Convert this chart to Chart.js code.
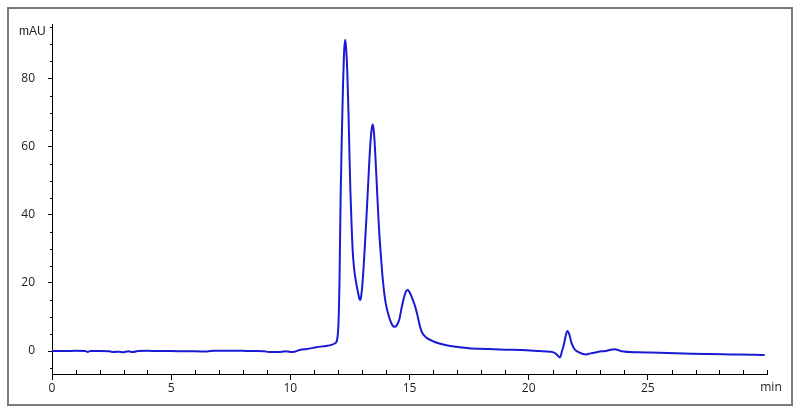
<!DOCTYPE html>
<html>
<head>
<meta charset="utf-8">
<script src="https://cdn.jsdelivr.net/npm/chart.js@4.4.1/dist/chart.umd.min.js"></script>
<style>
  html, body { margin: 0; padding: 0; background: #ffffff; }
  canvas { display: block; }
</style>
</head>
<body>
<canvas id="c" width="800" height="412"></canvas>
<script>
// Retention time (min)
const times = [
  0.0, 0.5, 1.0, 1.4, 1.5, 1.6, 2.0, 2.4, 2.6, 2.8, 3.0, 3.2, 3.4, 3.6, 4.0, 4.5, 5.0, 5.5, 6.0, 6.5,
  6.8, 7.5, 8.0, 8.5, 8.9, 9.1, 9.5, 9.8, 10.1, 10.4, 10.7, 11.1, 11.5, 11.72, 11.86, 11.93, 11.97, 12.0,
  12.03, 12.06, 12.11, 12.16, 12.21, 12.25, 12.30, 12.34, 12.39, 12.44, 12.48, 12.52, 12.57, 12.62, 12.68,
  12.75, 12.83, 12.90, 12.94, 12.98, 13.05, 13.12, 13.20, 13.28, 13.35, 13.41, 13.46, 13.51, 13.57, 13.64,
  13.72, 13.80, 13.88, 13.99, 14.16, 14.28, 14.37, 14.47, 14.58, 14.65, 14.76, 14.86, 14.93, 15.00, 15.14,
  15.25, 15.35, 15.43, 15.52, 15.70, 15.95, 16.25, 16.6, 16.95, 17.5, 18.2, 19.0, 19.7, 20.44, 20.9, 21.07,
  21.2, 21.31, 21.4, 21.49, 21.57, 21.63, 21.70, 21.80, 21.92, 22.05, 22.25, 22.40, 22.6, 22.82, 23.05,
  23.24, 23.45, 23.6, 23.75, 23.9, 24.6, 25.5, 26.5, 27.5, 28.5, 29.5, 29.9
];
// Absorbance (mAU)
const absorbance = [
  0.0, 0.0, 0.05, 0.0, -0.3, 0.0, 0.0, -0.1, -0.3, -0.2, -0.35, -0.1, -0.3, 0.0, 0.05, 0.0, 0.0, -0.1, -0.1, -0.15,
  0.1, 0.1, 0.05, 0.0, -0.05, -0.3, -0.3, -0.1, -0.3, 0.3, 0.6, 1.1, 1.5, 1.8, 2.2, 2.6, 3.6, 5.5,
  10, 19, 45, 63, 78, 87, 91.4, 89, 82, 70, 58, 47, 37, 29, 24,
  20.5, 17.5, 15.3, 15.0, 16.5, 22, 30, 40, 51, 60, 65, 66.5, 64, 57, 47,
  36, 28, 21, 14.5, 9.6, 7.6, 7.1, 7.6, 9.5, 12, 15.5, 17.6, 17.9, 17.3, 15,
  12.8, 10, 7.5, 5.5, 4.0, 3.0, 2.2, 1.6, 1.25, 0.8, 0.6, 0.4, 0.3, 0.0, -0.2, -0.5,
  -1.2, -1.9, 0.0, 2.3, 5.0, 5.9, 5.0, 2.3, 0.6, -0.2, -0.8, -1.0, -0.7, -0.4, -0.1,
  0.0, 0.4, 0.5, 0.3, -0.1, -0.4, -0.5, -0.7, -0.9, -1.0, -1.1, -1.2
];
// Tick labels
const xTicks = [0, 5, 10, 15, 20, 25];
const yTicks = [0, 20, 40, 60, 80];
const xMinorTicks = [1, 2, 3, 4, 6, 7, 8, 9, 11, 12, 13, 14, 16, 17, 18, 19, 21, 22, 23, 24, 26, 27, 28, 29, 30];
const yMinorTicks = [-5, 5, 10, 15, 25, 30, 35, 45, 50, 55, 65, 70, 75, 85, 90, 95];
const xUnit = 'min';
const yUnit = 'mAU';

const points = times.map((t, i) => ({ x: t, y: absorbance[i] }));

const decor = {
  id: 'decor',
  afterDraw(chart) {
    const ctx = chart.ctx;
    const xs = chart.scales.x, ys = chart.scales.y;
    const area = chart.chartArea;
    ctx.save();
    // outer frame
    ctx.strokeStyle = '#7a7a7a';
    ctx.lineWidth = 2;
    ctx.strokeRect(8, 8, 784, 397);
    // minor ticks
    ctx.strokeStyle = '#000000';
    ctx.lineWidth = 1;
    ctx.beginPath();
    xMinorTicks.forEach(v => {
      const px = Math.round(xs.getPixelForValue(v)) + 0.5;
      ctx.moveTo(px, area.bottom);
      ctx.lineTo(px, area.bottom - 4);
    });
    yMinorTicks.forEach(v => {
      const py = Math.round(ys.getPixelForValue(v)) + 0.5;
      ctx.moveTo(area.left, py);
      ctx.lineTo(area.left - 2, py);
    });
    ctx.stroke();
    // unit labels
    ctx.fillStyle = '#222222';
    ctx.font = '12px "Liberation Sans", Arial, sans-serif';
    ctx.textAlign = 'left';
    ctx.textBaseline = 'middle';
    ctx.fillText(yUnit, 19, 32);
    ctx.font = '12px "Open Sans", sans-serif';
    ctx.textAlign = 'center';
    ctx.fillText(xUnit, 771, 388);
    ctx.restore();
  }
};

new Chart(document.getElementById('c'), {
  type: 'line',
  data: {
    datasets: [{
      data: points,
      borderColor: '#1a1ad4',
      borderWidth: 2,
      pointRadius: 0,
      fill: false,
      cubicInterpolationMode: 'monotone'
    }]
  },
  options: {
    responsive: false,
    animation: false,
    devicePixelRatio: 1,
    layout: { padding: { left: 0, top: 24, right: 33, bottom: 0 } },
    plugins: { legend: { display: false }, tooltip: { enabled: false } },
    scales: {
      x: {
        type: 'linear',
        min: 0,
        max: 30,
        afterFit(scale) { scale.height = 38; },
        afterBuildTicks(scale) { scale.ticks = xTicks.map(v => ({ value: v })); },
        border: { display: true, color: '#000000', width: 1 },
        grid: { drawOnChartArea: false, drawTicks: true, tickLength: 6, color: '#000000' },
        ticks: { color: '#222222', font: { family: '"Open Sans", sans-serif', size: 12 }, padding: 1, maxRotation: 0 }
      },
      y: {
        type: 'linear',
        min: -6.75,
        max: 96,
        afterFit(scale) { scale.width = 52; },
        afterBuildTicks(scale) { scale.ticks = yTicks.map(v => ({ value: v })); },
        border: { display: true, color: '#000000', width: 1 },
        grid: { drawOnChartArea: false, drawTicks: true, tickLength: 4, color: '#000000' },
        ticks: { color: '#222222', font: { family: '"Open Sans", sans-serif', size: 12 }, padding: 13 }
      }
    }
  },
  plugins: [decor]
});
</script>
</body>
</html>
